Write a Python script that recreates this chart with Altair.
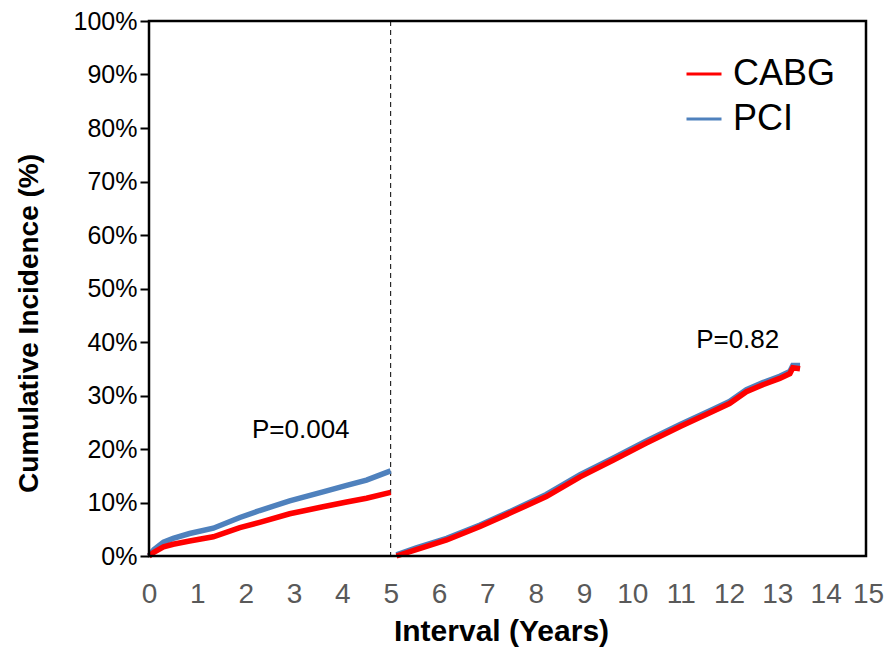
import altair as alt
import pandas as pd

# ---- data ----
series_names = ["CABG", "PCI"]

years_early = [0, 0.1, 0.3, 0.5, 0.84, 1.33, 1.88, 2.29, 2.91, 3.6, 4.09, 4.5, 5.0]
pci_early = [0, 1.2, 2.6, 3.3, 4.2, 5.2, 7.2, 8.5, 10.3, 12.0, 13.2, 14.2, 15.9]
cabg_early = [0, 0.7, 1.7, 2.2, 2.8, 3.6, 5.3, 6.3, 7.9, 9.2, 10.1, 10.8, 11.9]

years_late = [5.12, 5.53, 6.16, 6.85, 7.54, 8.22, 8.92, 9.6, 10.29, 10.99, 11.66,
              12.01, 12.36, 12.7, 13.05, 13.26, 13.32, 13.47]
cabg_late = [0, 1.2, 3.0, 5.5, 8.3, 11.1, 14.8, 17.9, 21.1, 24.2, 27.0,
             28.5, 30.7, 32.0, 33.2, 34.1, 35.2, 35.0]
pci_late = [0.2, 1.5, 3.3, 5.8, 8.6, 11.5, 15.2, 18.3, 21.5, 24.6, 27.4,
            28.9, 31.1, 32.4, 33.6, 34.5, 35.6, 35.6]

landmark_year = [5]
x_ticks = list(range(0, 16))
y_ticks = list(range(0, 101, 10))

p_labels = ["P=0.004", "P=0.82"]
p_years = [3.14, 12.18]
p_values = [23.6, 40.4]

# ---- build table ----
rows = []
for t, v in zip(years_early, cabg_early):
    rows.append({"group": "CABG", "segment": "early", "years": t, "value": v})
for t, v in zip(years_late, cabg_late):
    rows.append({"group": "CABG", "segment": "late", "years": t, "value": v})
for t, v in zip(years_early, pci_early):
    rows.append({"group": "PCI", "segment": "early", "years": t, "value": v})
for t, v in zip(years_late, pci_late):
    rows.append({"group": "PCI", "segment": "late", "years": t, "value": v})
df = pd.DataFrame(rows)

ann = pd.DataFrame({"label": p_labels, "years": p_years, "value": p_values})
lm = pd.DataFrame({"years": landmark_year})

W, H = 725, 535
FRAME_W = 717

color_scale = alt.Scale(domain=series_names, range=["#FF0000", "#4F81BD"])

x_enc = alt.X(
    "years:Q",
    scale=alt.Scale(domain=[0, 15], nice=False),
    axis=alt.Axis(
        values=x_ticks,
        title="Interval (Years)",
        domain=False,
        ticks=False,
        grid=False,
        labelOverlap=False,
        labelFlush=False,
        labelFont="Liberation Sans Narrow, Arial Narrow, Liberation Sans",
        labelFontSize=28,
        labelColor="#595959",
        labelPadding=24,
        labelOffset={"condition": {"test": "datum.value == 15", "value": -6}, "value": 0},
        titleFont="Liberation Sans Narrow, Arial Narrow, Liberation Sans",
        titleFontSize=30,
        titleFontWeight="bold",
        titleColor="black",
        titlePadding=8,
        titleX=352,
    ),
)
y_enc = alt.Y(
    "value:Q",
    scale=alt.Scale(domain=[0, 100], nice=False),
    axis=alt.Axis(
        values=y_ticks,
        labelExpr="datum.value + '%'",
        title="Cumulative Incidence (%)",
        domain=False,
        ticks=True,
        tickSize=9,
        tickWidth=2,
        tickColor="black",
        grid=False,
        labelOverlap=False,
        labelFlush=False,
        labelFont="Liberation Sans",
        labelFontSize=25,
        labelColor="black",
        labelPadding=3,
        titleFont="Liberation Sans",
        titleFontSize=28,
        titleFontWeight="bold",
        titleColor="black",
        titlePadding=30,
        titleY=302,
    ),
)

color_enc = alt.Color(
    "group:N",
    scale=color_scale,
    legend=alt.Legend(
        title=None,
        orient="none",
        legendX=536,
        legendY=34,
        symbolType="stroke",
        symbolSize=1225,
        symbolStrokeWidth=3,
        labelFont="Liberation Sans",
        labelFontSize=36,
        labelColor="black",
        labelOffset=10,
        rowPadding=8,
    ),
)

pci_line = (
    alt.Chart(df)
    .transform_filter("datum.group == 'PCI'")
    .mark_line(strokeWidth=5.5)
    .encode(x=x_enc, y=y_enc, color=color_enc, detail="segment:N")
)
cabg_line = (
    alt.Chart(df)
    .transform_filter("datum.group == 'CABG'")
    .mark_line(strokeWidth=5.5)
    .encode(x=x_enc, y=y_enc, color=color_enc, detail="segment:N")
)

rule = alt.Chart(lm).mark_rule(strokeDash=[5, 4], strokeWidth=1, color="black").encode(x="years:Q")

frame = (
    alt.Chart(pd.DataFrame({"k": [0]}))
    .mark_rect(fillOpacity=0, stroke="black", strokeWidth=2.5)
    .encode(x=alt.value(0), x2=alt.value(FRAME_W), y=alt.value(0), y2=alt.value(H))
)

text = (
    alt.Chart(ann)
    .mark_text(font="Liberation Sans", fontSize=26, color="black", align="center", baseline="middle")
    .encode(x="years:Q", y="value:Q", text="label:N")
)

chart = (
    alt.layer(rule, pci_line, cabg_line, frame, text)
    .properties(
        width=W,
        height=H,
        autosize=alt.AutoSizeParams(type="none"),
        padding={"left": 149, "top": 21, "right": 11, "bottom": 93},
        background="white",
    )
    .configure_view(stroke=None)
)

chart.save("out.html", embed_options={"renderer": "svg", "actions": False})
